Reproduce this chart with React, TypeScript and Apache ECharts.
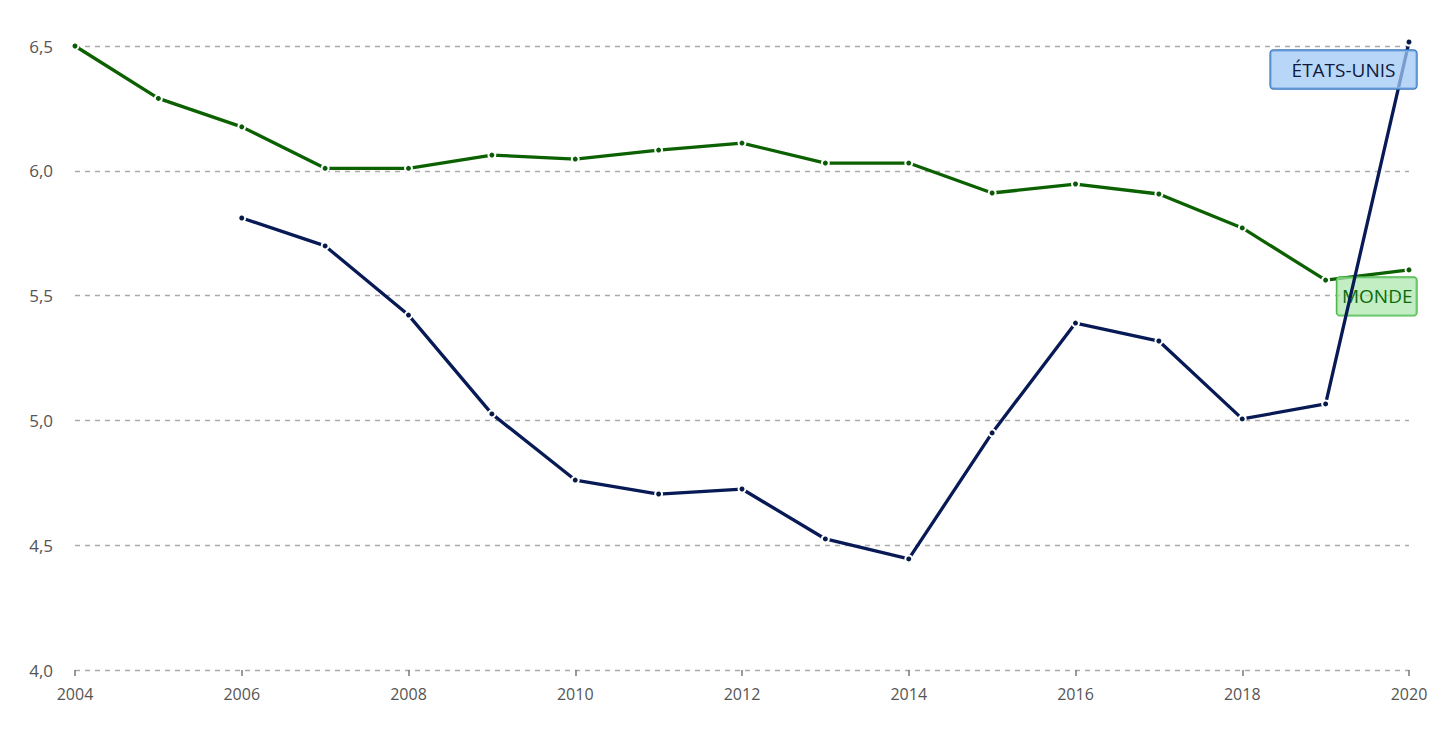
import React, { useEffect, useRef } from "react";
import * as echarts from "echarts";

const years = [2004, 2005, 2006, 2007, 2008, 2009, 2010, 2011, 2012, 2013, 2014, 2015, 2016, 2017, 2018, 2019, 2020];
const monde = [6.5, 6.29, 6.176, 6.01, 6.01, 6.063, 6.047, 6.083, 6.111, 6.031, 6.031, 5.911, 5.947, 5.907, 5.771, 5.562, 5.603];
const etatsUnis = [null, null, 5.811, 5.699, 5.422, 5.026, 4.761, 4.705, 4.725, 4.525, 4.445, 4.95, 5.39, 5.318, 5.006, 5.066, 6.516];
const mondeName = "MONDE";
const usName = "ÉTATS-UNIS";

const FONT = "'Open Sans', 'Noto Sans', sans-serif";

function buildData(vals: (number | null)[], label: any) {
  const out: any[] = [];
  vals.forEach((v, i) => {
    if (v === null) return;
    const item: any = { value: [years[i], v] };
    if (i === vals.length - 1) item.label = label;
    out.push(item);
  });
  return out;
}

export default function App() {
  const ref = useRef<HTMLDivElement>(null);
  useEffect(() => {
    if (!ref.current) return;
    const chart = echarts.init(ref.current, undefined, { renderer: "svg" });
    const symbolStyle = (c: string) => ({ color: c, borderColor: "#ffffff", borderWidth: 2 });
    chart.setOption({
      animation: false,
      backgroundColor: "#ffffff",
      textStyle: { fontFamily: FONT },
      grid: { left: 75, right: 34, top: 46, bottom: 67 },
      xAxis: {
        type: "value",
        min: 2004,
        max: 2020,
        interval: 2,
        axisLine: { show: false },
        axisTick: { show: true, length: 6, lineStyle: { color: "#777", width: 1.5 } },
        axisLabel: { color: "#555", fontSize: 16, margin: 16, fontFamily: FONT, formatter: (v: number) => String(v) },
        splitLine: { show: false },
      },
      yAxis: {
        type: "value",
        min: 4,
        max: 6.5,
        interval: 0.5,
        axisLine: { show: false },
        axisTick: { show: false },
        axisLabel: {
          color: "#555",
          fontSize: 17,
          margin: 22,
          fontFamily: FONT,
          formatter: (v: number) => v.toFixed(1).replace(".", ","),
        },
        splitLine: { show: true, lineStyle: { color: "#aaaaaa", type: [5, 5], width: 1.3 } },
      },
      series: [
        {
          name: mondeName,
          type: "line",
          clip: false,
          data: buildData(monde, {
            show: true,
            formatter: mondeName,
            position: [12, 12],
            align: "right",
            verticalAlign: "top",
            color: "#0b6b0b",
            fontSize: 19,
            fontFamily: FONT,
            backgroundColor: "rgba(170, 230, 170, 0.7)",
            borderColor: "#4cb84c",
            borderWidth: 1.2,
            borderRadius: 3,
            padding: [8, 4, 8, 5],
            lineHeight: 22,
          }),
          lineStyle: { color: "#0b6100", width: 3.3 },
          itemStyle: symbolStyle("#0b5a08"),
          symbol: "circle",
          symbolSize: 7,
          showSymbol: true,
          z: 2,
        },
        {
          name: usName,
          type: "line",
          clip: false,
          data: buildData(etatsUnis, {
            show: true,
            formatter: usName,
            position: [12, 13],
            align: "right",
            verticalAlign: "top",
            color: "#0d1a3c",
            fontSize: 19,
            fontFamily: FONT,
            backgroundColor: "rgba(160, 200, 245, 0.75)",
            borderColor: "#3a78bf",
            borderWidth: 1.2,
            borderRadius: 3,
            padding: [8, 21, 8, 21],
            lineHeight: 22,
          }),
          lineStyle: { color: "#071a55", width: 3.3 },
          itemStyle: symbolStyle("#071a45"),
          symbol: "circle",
          symbolSize: 7,
          showSymbol: true,
          z: 3,
        },
      ],
    });
    return () => chart.dispose();
  }, []);
  return <div ref={ref} style={{ position: "fixed", left: 0, top: 0, width: 1443, height: 737 }} />;
}
